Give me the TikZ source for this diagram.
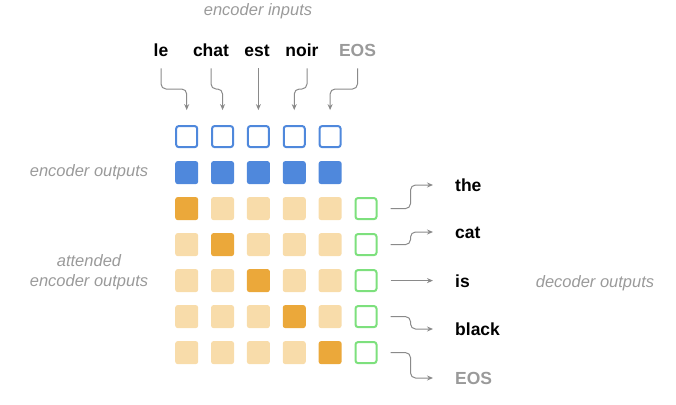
\documentclass[tikz,border=0pt]{standalone}
\usepackage{fontspec}
\setmainfont{Liberation Sans}
\usetikzlibrary{arrows.meta}
\definecolor{bl}{HTML}{4F88DC}
\definecolor{lor}{HTML}{F8DCAA}
\definecolor{dor}{HTML}{EBA83A}
\definecolor{gr}{HTML}{7DE07D}
\definecolor{lg}{HTML}{9A9A9A}
\definecolor{ag}{HTML}{8A8A8A}
\begin{document}
\begin{tikzpicture}[x=1pt,y=-1pt,
 sq/.style={minimum size=23pt, inner sep=0pt, rounded corners=2.5pt},
 outl/.style={sq, draw=bl, line width=2pt, minimum size=21pt},
 full/.style={sq, fill=bl},
 att/.style={sq, fill=lor},
 attd/.style={sq, fill=dor},
 dec/.style={sq, draw=gr, line width=2pt, minimum size=21pt},
 word/.style={font=\fontsize{17.5}{20}\selectfont\bfseries, inner sep=0pt, text height=12.5pt, text depth=0pt},
 lbl/.style={font=\fontsize{16.5}{19.5}\selectfont\itshape, text=lg, inner sep=0pt, align=center},
 arr/.style={draw=ag, line width=1pt, rounded corners=5pt, -{Stealth[length=6pt,width=5pt]}}
]
\useasboundingbox (0,0) rectangle (676,404);

% labels
\node[lbl] (lin) at (258,11) {encoder inputs};
\node[lbl] (lout) at (89,172) {encoder outputs};
\node[lbl] (latt) at (89,272) {attended\\encoder outputs};
\node[lbl] (ldec) at (595,283) {decoder outputs};

% input words
\node[word] (w1) at (161,50) {le};
\node[word] (w2) at (211,50) {chat};
\node[word] (w3) at (257,50) {est};
\node[word] (w4) at (302,50) {noir};
\node[word, text=lg] (w5) at (357.5,50) {EOS};

% grid
\foreach \i in {1,...,5}{
  \pgfmathsetmacro{\cx}{186.7+35.85*(\i-1)}
  \node[outl] (e\i) at (\cx,136.6) {};
  \node[full] (f\i) at (\cx,172.6) {};
  \foreach \j in {1,...,5}{
    \pgfmathsetmacro{\cy}{208.6+36*(\j-1)}
    \ifnum\i=\j
      \node[attd] (a\j\i) at (\cx,\cy) {};
    \else
      \node[att] (a\j\i) at (\cx,\cy) {};
    \fi
  }
}
\foreach \j in {1,...,5}{
  \pgfmathsetmacro{\cy}{208.6+36*(\j-1)}
  \node[dec] (g\j) at (366,\cy) {};
}

% output words
\node[word] (o1) at (455,185) [anchor=west] {the};
\node[word] (o2) at (455,232) [anchor=west] {cat};
\node[word] (o3) at (455,281) [anchor=west] {is};
\node[word] (o4) at (455,329) [anchor=west] {black};
\node[word, text=lg] (o5) at (455,378) [anchor=west] {EOS};

% input arrows
\draw[arr, shorten <=12pt, shorten >=15pt] (w1.south) -- (w1.south |- 0,89) -- (e1.north |- 0,89) -- (e1.north);
\draw[arr, shorten <=12pt, shorten >=15pt] (w2.south) -- (w2.south |- 0,89) -- (e2.north |- 0,89) -- (e2.north);
\draw[arr, shorten <=12pt, shorten >=15pt] (e3.north |- w3.south) -- (e3.north);
\draw[arr, shorten <=12pt, shorten >=15pt] ([xshift=5pt]w4.south) -- ([xshift=5pt]w4.south |- 0,89) -- (e4.north |- 0,89) -- (e4.north);
\draw[arr, shorten <=12pt, shorten >=15pt] (w5.south) -- (w5.south |- 0,89) -- (e5.north |- 0,89) -- (e5.north);

% output arrows
\foreach \j in {1,2,4,5}{
  \draw[arr, shorten <=13pt, shorten >=22pt] (g\j.east) -- ++(33,0) |- (o\j.west);
}
\draw[arr, shorten <=13pt, shorten >=22pt] (g3.east) -- (g3.east -| o3.west);
\end{tikzpicture}
\end{document}
